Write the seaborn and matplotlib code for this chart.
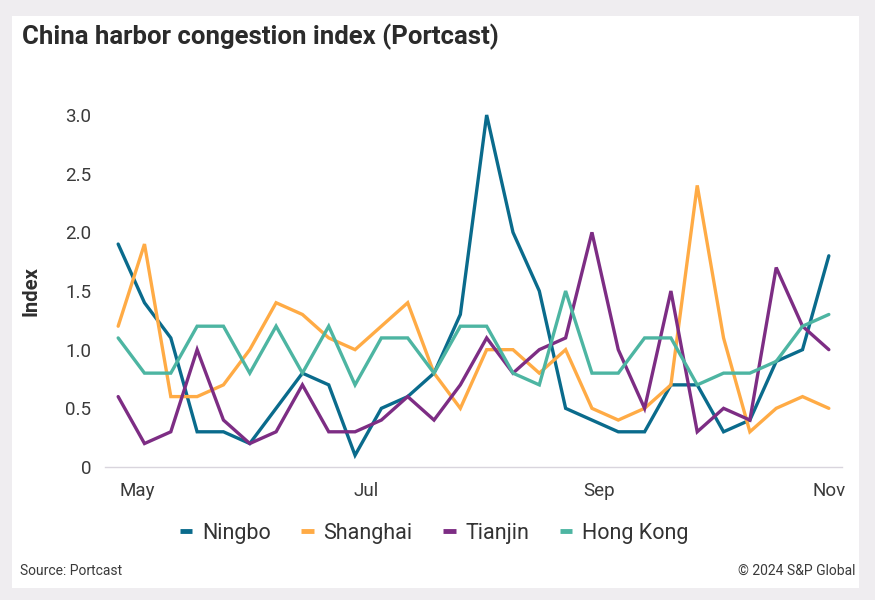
import matplotlib
matplotlib.use("Agg")
import matplotlib.pyplot as plt
from matplotlib.patches import Rectangle
from matplotlib.lines import Line2D
import pandas as pd
import seaborn as sns

# ---- data ----
start_date = "2024-04-26"
n_weeks = 28
ningbo = [1.9, 1.4, 1.1, 0.3, 0.3, 0.2, 0.5, 0.8, 0.7, 0.1, 0.5, 0.6, 0.8, 1.3,
          3.0, 2.0, 1.5, 0.5, 0.4, 0.3, 0.3, 0.7, 0.7, 0.3, 0.4, 0.9, 1.0, 1.8]
shanghai = [1.2, 1.9, 0.6, 0.6, 0.7, 1.0, 1.4, 1.3, 1.1, 1.0, 1.2, 1.4, 0.8, 0.5,
            1.0, 1.0, 0.8, 1.0, 0.5, 0.4, 0.5, 0.7, 2.4, 1.1, 0.3, 0.5, 0.6, 0.5]
tianjin = [0.6, 0.2, 0.3, 1.0, 0.4, 0.2, 0.3, 0.7, 0.3, 0.3, 0.4, 0.6, 0.4, 0.7,
           1.1, 0.8, 1.0, 1.1, 2.0, 1.0, 0.5, 1.5, 0.3, 0.5, 0.4, 1.7, 1.2, 1.0]
hong_kong = [1.1, 0.8, 0.8, 1.2, 1.2, 0.8, 1.2, 0.8, 1.2, 0.7, 1.1, 1.1, 0.8, 1.2,
             1.2, 0.8, 0.7, 1.5, 0.8, 0.8, 1.1, 1.1, 0.7, 0.8, 0.8, 0.9, 1.2, 1.3]
series_names = ["Ningbo", "Shanghai", "Tianjin", "Hong Kong"]
colors = ["#0a6b8c", "#ffab45", "#7d2d84", "#4db5a2"]
y_ticks = [0, 0.5, 1.0, 1.5, 2.0, 2.5, 3.0]
y_tick_labels = ["0", "0.5", "1.0", "1.5", "2.0", "2.5", "3.0"]
x_tick_dates = ["2024-05-01", "2024-07-01", "2024-09-01", "2024-11-01"]
x_tick_labels = ["May", "Jul", "Sep", "Nov"]

dates = pd.date_range(start_date, periods=n_weeks, freq="7D")
df = pd.concat([
    pd.DataFrame({"date": dates, "value": vals, "port": name})
    for name, vals in zip(series_names, [ningbo, shanghai, tianjin, hong_kong])
])

sns.set_theme(style="white")
FONT = ["Roboto", "DejaVu Sans"]
plt.rcParams["font.family"] = FONT

W, H = 875, 600
fig = plt.figure(figsize=(W / 100, H / 100), dpi=100)
fig.patch.set_facecolor("#efedf0")
fig.add_artist(Rectangle((12 / W, 1 - 588 / H), (859 - 12) / W, (588 - 16) / H,
                         transform=fig.transFigure, facecolor="white",
                         edgecolor="none", zorder=0))

ax = fig.add_axes([105 / W, 1 - 467 / H, (842 - 105) / W, (467 - 115) / H])
ax.set_facecolor("none")
sns.lineplot(data=df, x="date", y="value", hue="port", hue_order=series_names,
             palette=colors, linewidth=2.4, ax=ax, legend=False)

ax.set_ylim(0, 3.0)
ax.set_xlim(dates[0] - pd.Timedelta(days=3.5), dates[-1] + pd.Timedelta(days=3.5))
ax.set_yticks(y_ticks)
ax.set_yticklabels(y_tick_labels)
ax.set_xticks(pd.to_datetime(x_tick_dates))
ax.set_xticklabels(x_tick_labels)
ax.tick_params(axis="both", length=0, labelsize=13.5, colors="#3a3a3a")
ax.tick_params(axis="y", pad=10)
ax.tick_params(axis="x", pad=11)
for s in ["top", "right", "left"]:
    ax.spines[s].set_visible(False)
ax.spines["bottom"].set_color("#d9d5dd")
ax.spines["bottom"].set_linewidth(1.0)
for line in ax.lines:
    line.set_clip_on(False)
    line.set_solid_joinstyle("miter")
ax.set_xlabel("")
ax.set_ylabel("Index", fontsize=14.5, fontweight="bold", color="#2e2e2e")
ax.yaxis.set_label_coords((40 - 105) / (842 - 105), 0.5)

fig.text(22 / W, 1 - 37 / H, "China harbor congestion index (Portcast)",
         fontsize=18.5, fontweight="bold", color="#2b2b2b", va="center", ha="left")

handles = [Line2D([0], [0], color=c, linewidth=3.5, solid_capstyle="butt") for c in colors]
fig.legend(handles, series_names, loc="center", bbox_to_anchor=(434 / W, 1 - 533 / H),
           ncol=4, frameon=False, fontsize=15.5, handlelength=0.6, handletextpad=0.45,
           columnspacing=1.4, labelcolor="#333333")

fig.text(20 / W, 1 - 571 / H, "Source: Portcast", fontsize=10, color="#3a3a3a",
         va="center", ha="left")
fig.text(855 / W, 1 - 571 / H, "\u00a9 2024 S&P Global", fontsize=10, color="#3a3a3a",
         va="center", ha="right")

fig.savefig("out.png", dpi=100, facecolor=fig.get_facecolor())
